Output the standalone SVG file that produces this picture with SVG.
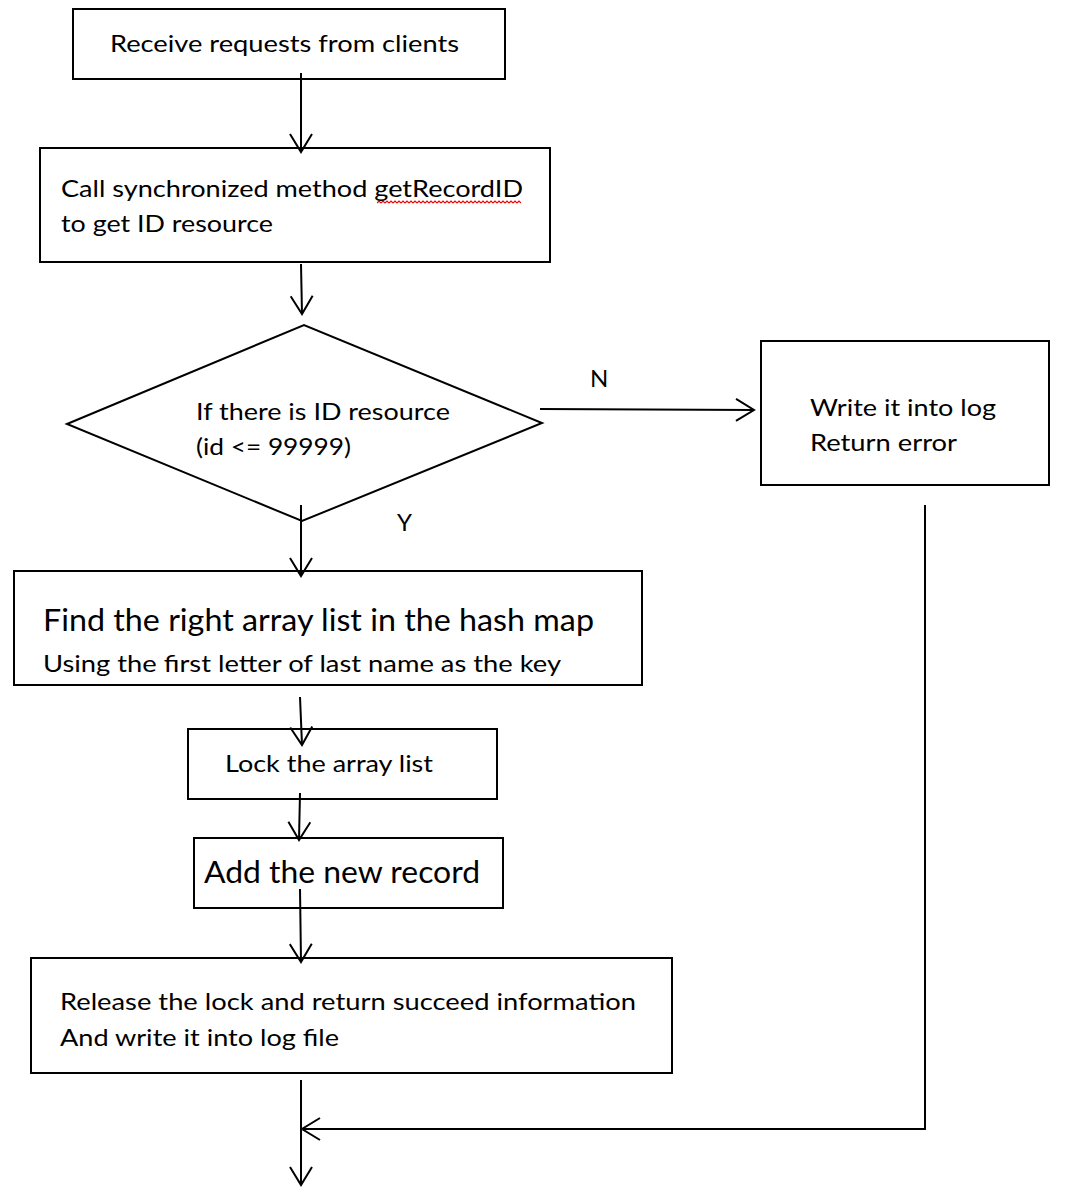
<svg xmlns="http://www.w3.org/2000/svg" width="1065" height="1195" viewBox="0 0 1065 1195">
<style>
.box{fill:none;stroke:#000;stroke-width:2}
.t{font-family:Lato,"Open Sans","Liberation Sans",sans-serif;font-size:24px;fill:#000}
.c{fill:none;stroke:#000;stroke-width:2}
</style>
<defs>
<marker id="ah" viewBox="0 0 24 24" refX="20" refY="12" markerWidth="24" markerHeight="24" markerUnits="userSpaceOnUse" orient="auto">
<path d="M2,1 L20,12 L2,23" fill="none" stroke="#000" stroke-width="2"/>
</marker>
<pattern id="wave" x="377" y="200" width="4" height="4" patternUnits="userSpaceOnUse">
<path d="M0,3 L2,1 L4,3" fill="none" stroke="#e00" stroke-width="1.2"/>
</pattern>
</defs>
<rect width="1065" height="1195" fill="#fff"/>
<g id="receive">
<rect class="box" x="73" y="9" width="432" height="70"/>
<text class="t" x="110" y="52" textLength="349" lengthAdjust="spacingAndGlyphs">Receive requests from clients</text>
</g>
<g id="call">
<rect class="box" x="40" y="148" width="510" height="114"/>
<text class="t" x="61" y="197" textLength="462" lengthAdjust="spacingAndGlyphs">Call synchronized method getRecordID</text>
<text class="t" x="61" y="232" textLength="212" lengthAdjust="spacingAndGlyphs">to get ID resource</text>
<rect x="377" y="200" width="144" height="4" fill="url(#wave)"/>
</g>
<g id="decision">
<polygon class="box" points="67,424 304,325 542,423 302,521"/>
<text class="t" x="196" y="420" textLength="254" lengthAdjust="spacingAndGlyphs">If there is ID resource</text>
<text class="t" x="196" y="455" textLength="155" lengthAdjust="spacingAndGlyphs">(id &lt;= 99999)</text>
</g>
<g id="error">
<rect class="box" x="761" y="341" width="288" height="144"/>
<text class="t" x="810" y="416" textLength="186" lengthAdjust="spacingAndGlyphs">Write it into log</text>
<text class="t" x="810" y="451" textLength="147" lengthAdjust="spacingAndGlyphs">Return error</text>
</g>
<g id="find">
<rect class="box" x="14" y="571" width="628" height="114"/>
<text class="t" x="43" y="631" style="font-size:30px" textLength="551" lengthAdjust="spacingAndGlyphs">Find the right array list in the hash map</text>
<text class="t" x="43" y="672" textLength="518" lengthAdjust="spacingAndGlyphs">Using the first letter of last name as the key</text>
</g>
<g id="lock">
<rect class="box" x="188" y="729" width="309" height="70"/>
<text class="t" x="225" y="772" textLength="208" lengthAdjust="spacingAndGlyphs">Lock the array list</text>
</g>
<g id="add">
<rect class="box" x="194" y="838" width="309" height="70"/>
<text class="t" x="204" y="883" style="font-size:31px" textLength="276" lengthAdjust="spacingAndGlyphs">Add the new record</text>
</g>
<g id="release">
<rect class="box" x="31" y="958" width="641" height="115"/>
<text class="t" x="60" y="1010" textLength="576" lengthAdjust="spacingAndGlyphs">Release the lock and return succeed information</text>
<text class="t" x="60" y="1046" textLength="279" lengthAdjust="spacingAndGlyphs">And write it into log file</text>
</g>
<g id="connectors">
<line class="c" x1="301" y1="73" x2="301" y2="152" marker-end="url(#ah)"/>
<line class="c" x1="301" y1="264" x2="302" y2="314" marker-end="url(#ah)"/>
<line class="c" x1="540" y1="409" x2="754" y2="410" marker-end="url(#ah)"/>
<line class="c" x1="301" y1="505" x2="301" y2="576" marker-end="url(#ah)"/>
<line class="c" x1="300" y1="697" x2="302" y2="745" marker-end="url(#ah)"/>
<line class="c" x1="300" y1="793" x2="299" y2="840" marker-end="url(#ah)"/>
<line class="c" x1="300" y1="889" x2="301" y2="962" marker-end="url(#ah)"/>
<line class="c" x1="301" y1="1080" x2="301" y2="1185" marker-end="url(#ah)"/>
<polyline class="c" points="925,505 925,1129 302,1129" marker-end="url(#ah)"/>
<text class="t" x="590" y="387">N</text>
<text class="t" x="397" y="531">Y</text>
</g>
</svg>
